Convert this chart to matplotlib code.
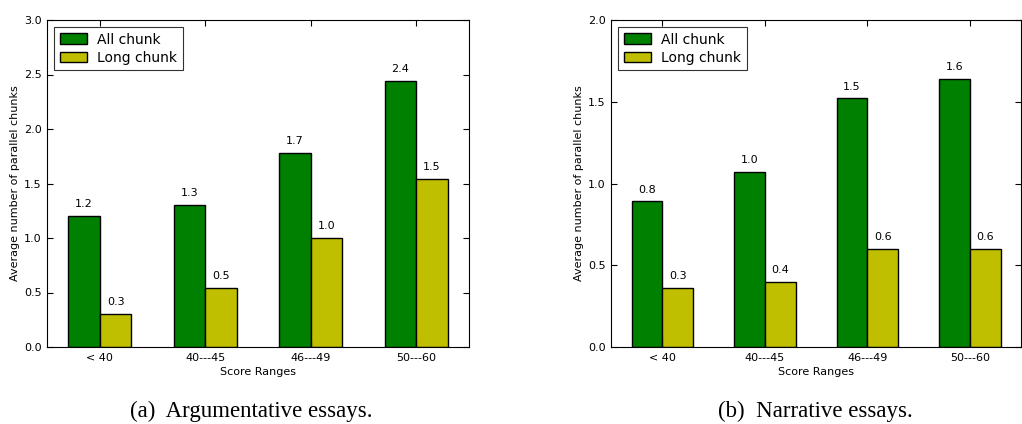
import numpy as np
import matplotlib.pyplot as plt

ranges = ["< 40", "40---45", "46---49", "50---60"]

arg_all = [1.20, 1.30, 1.78, 2.44]
arg_long = [0.30, 0.54, 1.00, 1.54]

nar_all = [0.89, 1.07, 1.52, 1.64]
nar_long = [0.36, 0.40, 0.60, 0.60]

green = (0.0, 0.5, 0.0)
yellow = (0.75, 0.75, 0.0)


def trunc(v):
    return "%.1f" % (np.floor(v * 10 + 1e-9) / 10)


def draw(ax, all_vals, long_vals, ymax, yticks):
    x = np.arange(len(ranges))
    w = 0.3
    b1 = ax.bar(x - w, all_vals, w, align="edge", color=green, edgecolor="black",
                linewidth=1, label="All chunk")
    b2 = ax.bar(x, long_vals, w, align="edge", color=yellow, edgecolor="black",
                linewidth=1, label="Long chunk")
    for bars, vals in ((b1, all_vals), (b2, long_vals)):
        for r, v in zip(bars, vals):
            ax.annotate(trunc(v), (r.get_x() + r.get_width() / 2, v),
                        xytext=(0, 5), textcoords="offset points",
                        ha="center", va="bottom", fontsize=8)
    ax.set_xlim(-0.5, 3.5)
    ax.set_ylim(0, ymax)
    ax.set_xticks(x)
    ax.set_xticklabels(ranges, fontsize=8)
    ax.set_yticks(yticks)
    ax.set_yticklabels(["%.1f" % t for t in yticks], fontsize=8)
    ax.tick_params(direction="in", top=True, right=True, length=4, pad=4)
    ax.set_xlabel("Score Ranges", fontsize=8, labelpad=3)
    ax.set_ylabel("Average number of parallel chunks", fontsize=8, labelpad=3)
    leg = ax.legend(loc="upper left", fontsize=10, fancybox=False, framealpha=1,
                    edgecolor="#333333", handlelength=2.0, handleheight=0.8,
                    borderpad=0.4, labelspacing=0.3, handletextpad=0.7,
                    borderaxespad=0.5)
    leg.get_frame().set_linewidth(0.8)


fig = plt.figure(figsize=(10.22, 4.24), dpi=100)
ax1 = fig.add_axes([47 / 1022, 1 - 347 / 424, 422 / 1022, 327 / 424])
ax2 = fig.add_axes([611 / 1022, 1 - 347 / 424, 410 / 1022, 327 / 424])

draw(ax1, arg_all, arg_long, 3.0, np.arange(0, 3.01, 0.5))
draw(ax2, nar_all, nar_long, 2.0, np.arange(0, 2.01, 0.5))

fig.text(251 / 1022, 1 - 411 / 424, "(a)  Argumentative essays.", ha="center", va="center",
         fontsize=16.5, family="Liberation Serif")
fig.text(815 / 1022, 1 - 411 / 424, "(b)  Narrative essays.", ha="center", va="center",
         fontsize=16.5, family="Liberation Serif")

fig.savefig("out.png", dpi=100)
